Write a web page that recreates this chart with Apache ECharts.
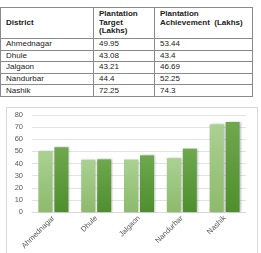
<!DOCTYPE html>
<html>
<head>
<meta charset="utf-8">
<script src="https://cdn.jsdelivr.net/npm/echarts@6/dist/echarts.min.js"></script>
<style>
  html, body { margin: 0; padding: 0; background: #fff; width: 261px; height: 253px; overflow: hidden; }
  #tbl {
    position: absolute; left: 0; top: 7px; width: 252px;
    border-collapse: collapse; table-layout: fixed;
    font-family: "Liberation Sans", Arial, sans-serif; font-size: 8px; color: #222;
  }
  #tbl td { border: 1px solid #8a8a8a; padding: 0 0 0 5px; height: 10.6px; line-height: 10px; vertical-align: middle; }
  #tbl tr.head td { height: 28px; font-weight: bold; vertical-align: top; padding-top: 2px; line-height: 8.5px; }
  #tbl tr.head td.mid { vertical-align: middle; padding-top: 0; }
  #chart {
    position: absolute; left: 6px; top: 107px; width: 250px; height: 150px;
    border: 1px solid #d9d9d9;
  }
</style>
</head>
<body>
<table id="tbl">
  <colgroup><col style="width:93px"><col style="width:61px"><col style="width:98px"></colgroup>
  <tbody id="tbody"></tbody>
</table>
<div id="chart"></div>
<script>
const districts = ['Ahmednagar', 'Dhule', 'Jalgaon', 'Nandurbar', 'Nashik'];
const targetValues = [49.95, 43.08, 43.21, 44.4, 72.25];
const achievementValues = [53.44, 43.4, 46.69, 52.25, 74.3];
const targetLabels = ['49.95', '43.08', '43.21', '44.4', '72.25'];
const achievementLabels = ['53.44', '43.4', '46.69', '52.25', '74.3'];
const headers = ['District', 'Plantation<br>Target<br>(Lakhs)', 'Plantation<br>Achievement&nbsp;&nbsp;(Lakhs)'];

// table
const tbody = document.getElementById('tbody');
let html = '<tr class="head"><td class="mid">' + headers[0] + '</td><td>' + headers[1] + '</td><td>' + headers[2] + '</td></tr>';
for (let i = 0; i < districts.length; i++) {
  html += '<tr><td>' + districts[i] + '</td><td>' + targetLabels[i] + '</td><td>' + achievementLabels[i] + '</td></tr>';
}
tbody.innerHTML = html;

const grad = (top, bottom) => new echarts.graphic.LinearGradient(0, 0, 0, 1, [
  { offset: 0, color: top },
  { offset: 1, color: bottom },
]);

const chart = echarts.init(document.getElementById('chart'));
chart.setOption({
  animation: false,
  grid: { left: 25, right: 11, top: 7, bottom: 46 },
  xAxis: {
    type: 'category',
    data: districts,
    axisLine: { lineStyle: { color: '#d9d9d9' } },
    axisTick: { show: false },
    axisLabel: {
      rotate: 45, interval: 0, margin: 5,
      fontFamily: 'Liberation Sans', fontSize: 7.5, color: '#595959',
    },
  },
  yAxis: {
    type: 'value',
    min: 0, max: 80, interval: 10,
    axisLine: { show: false },
    axisTick: { show: false },
    splitLine: { lineStyle: { color: '#e3e3e3' } },
    axisLabel: { fontFamily: 'Liberation Sans', fontSize: 7.5, color: '#595959', margin: 9 },
  },
  series: [
    {
      name: 'Target',
      type: 'bar',
      data: targetValues,
      barWidth: 14,
      barGap: '14%',
      itemStyle: {
        color: grad('#abd192', '#8dba6c'),
        shadowBlur: 2, shadowColor: 'rgba(0,0,0,0.25)', shadowOffsetX: 1,
      },
    },
    {
      name: 'Achievement',
      type: 'bar',
      data: achievementValues,
      barWidth: 14,
      itemStyle: {
        color: grad('#6fa84e', '#4f8e2e'),
        shadowBlur: 2, shadowColor: 'rgba(0,0,0,0.25)', shadowOffsetX: 1,
      },
    },
  ],
});
</script>
</body>
</html>
